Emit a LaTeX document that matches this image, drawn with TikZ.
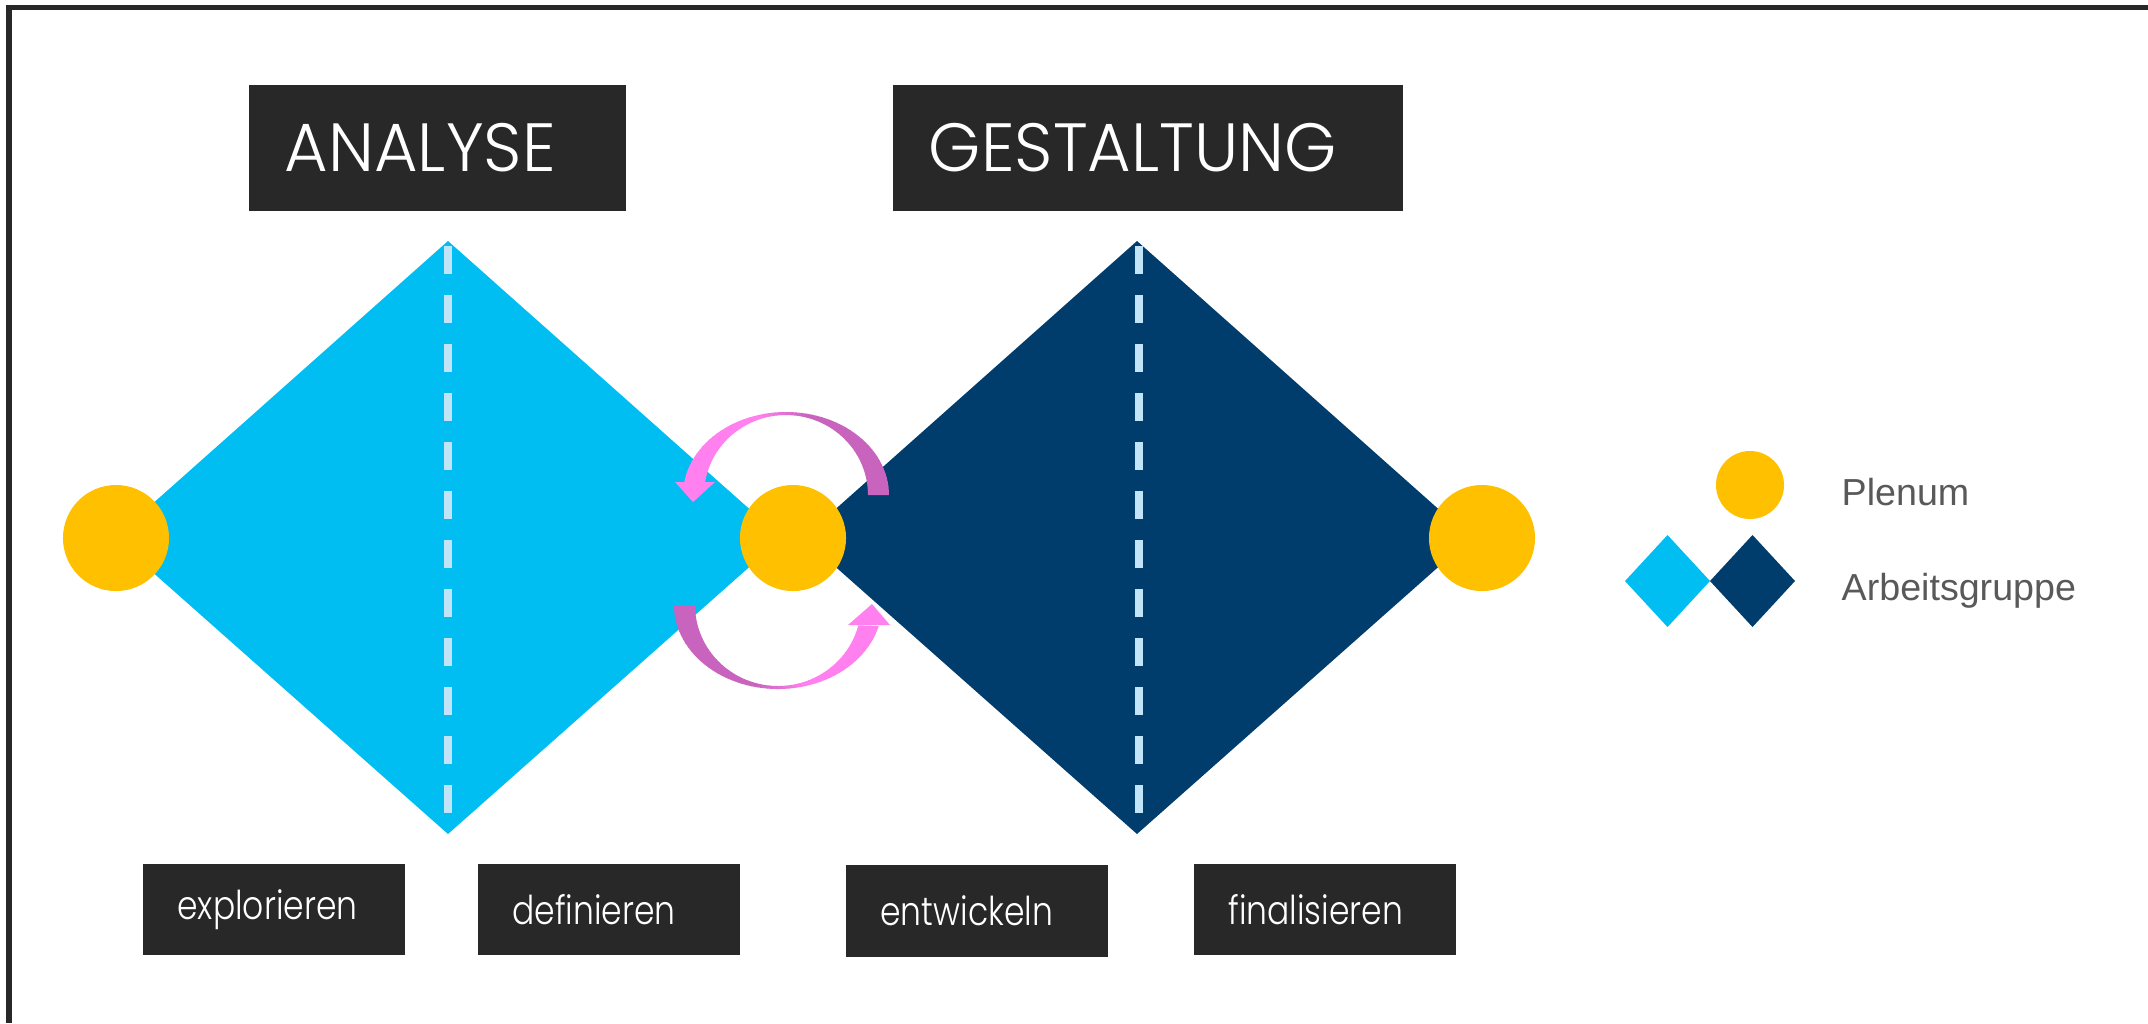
\documentclass[tikz,border=0pt]{standalone}
\usepackage{fontspec}
\usepackage{xcolor}
\usepackage{tikz}
\usetikzlibrary{positioning}
\newfontfamily\phasefont{Poppins}[UprightFont=* Light, FakeStretch=0.98]
\newfontfamily\actfont{Poppins}[UprightFont=* Light, FakeStretch=0.83]
\setsansfont{Liberation Sans}

\definecolor{arbhell}{HTML}{00BEF2}
\definecolor{arbdunkel}{HTML}{003C6C}
\definecolor{plenumgelb}{HTML}{FFC000}
\definecolor{strich}{HTML}{C2E4F9}
\definecolor{boxgrau}{HTML}{282828}
\definecolor{rosa}{HTML}{FF80EE}
\definecolor{orchidee}{HTML}{C864BE}
\definecolor{legtext}{HTML}{595959}

\begin{document}
\begin{tikzpicture}[
    x=0.01cm, y=-0.01cm,
    phasebox/.style={rectangle, fill=boxgrau, text=white, inner xsep=3.6mm, minimum height=1.26cm,
                     align=left, font=\phasefont\fontsize{19.4}{23}\selectfont},
    actbox/.style={rectangle, fill=boxgrau, text=white, inner xsep=3.4mm, text width=1.93cm,
                   minimum height=0.91cm, align=left, font=\actfont\fontsize{11.3}{13}\selectfont},
    plenumdot/.style={circle, fill=plenumgelb, inner sep=0pt, minimum size=1.06cm},
    midline/.style={strich, line width=0.8mm, dash pattern=on 2.8mm off 2.1mm},
    legtxt/.style={anchor=base west, inner xsep=0pt, text=legtext, font=\sffamily\fontsize{10.7}{13}\selectfont}
]
\useasboundingbox (0,0) rectangle (2148,1023);
\draw[line width=0.58mm, color=boxgrau] (2148,7.5) -- (9,7.5) -- (9,1023);

% phases
\fill[arbhell]   (448,241)  -- (782,538)  -- (448,834)  -- (114,538) -- cycle;
\fill[arbdunkel] (1137,241) -- (1471,538) -- (1137,834) -- (803,538) -- cycle;
\draw[midline] (448,246)  -- (448,834);
\draw[midline] (1139,246) -- (1139,834);

\node[phasebox, text width=3.05cm] (analyse)   at (437.5,148) {ANALYSE};
\node[phasebox, text width=4.38cm] (gestalt)   at (1148,148)  {GESTALTUNG};
\node[actbox] (explor)  at (274,909.5)  {explorieren};
\node[actbox] (defin)   at (609,909.5)  {definieren};
\node[actbox] (entw)    at (977,911)    {entwickeln};
\node[actbox] (final)   at (1325,909.5) {finalisieren};

\node[plenumdot] (plenL) at (116,538)  {};
\node[plenumdot] (plenM) at (793,538)  {};
\node[plenumdot] (plenR) at (1482,538) {};

% loop arrows
\foreach \a in {0,-3,...,-168} {
  \pgfmathsetmacro{\b}{\a-3.5}
  \pgfmathsetmacro{\m}{min(100,max(0,(-\a-75)*100/30))}
  \fill[rosa!\m!orchidee] ({786+103*cos(\a)},{495+83*sin(\a)})
    arc[start angle=\a, end angle=\b, x radius=103, y radius=83]
    -- ({786+82*cos(\b)},{495+80*sin(\b)})
    arc[start angle=\b, end angle=\a, x radius=82, y radius=80] -- cycle;
}
\fill[rosa] (675,482) -- (715,482) -- (693,502) -- cycle;
\foreach \a in {180,177,...,18} {
  \pgfmathsetmacro{\b}{\a-3.5}
  \pgfmathsetmacro{\m}{min(100,max(0,(105-\a)*100/30))}
  \fill[rosa!\m!orchidee] ({778+104*cos(\a)},{605+84*sin(\a)})
    arc[start angle=\a, end angle=\b, x radius=104, y radius=84]
    -- ({778+83*cos(\b)},{605+81*sin(\b)})
    arc[start angle=\b, end angle=\a, x radius=83, y radius=81] -- cycle;
}
\fill[rosa] (848,625) -- (890,625) -- (872,604) -- cycle;

% legend
\node[plenumdot, minimum size=0.68cm] (legdot) at (1750,485) {};
\fill[arbhell]   (1667.5,535) -- (1710,581) -- (1667.5,627) -- (1625,581) -- cycle;
\fill[arbdunkel] (1752.5,535) -- (1795,581) -- (1752.5,627) -- (1710,581) -- cycle;
\node[legtxt] (legPlenum) at (1841,505) {Plenum};
\node[legtxt] (legGruppe) at (1841,600) {Arbeitsgruppe};
\end{tikzpicture}
\end{document}
